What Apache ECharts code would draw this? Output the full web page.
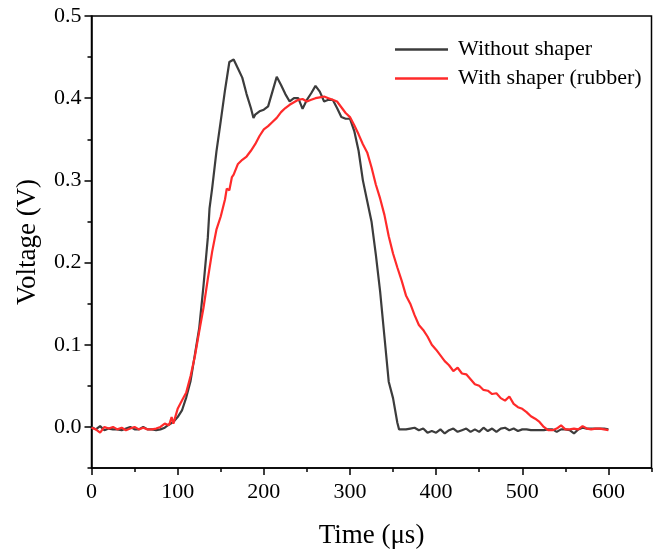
<!DOCTYPE html>
<html>
<head>
<meta charset="utf-8">
<script src="https://cdn.jsdelivr.net/npm/echarts@6/dist/echarts.min.js"></script>
<style>html,body{margin:0;padding:0;background:#fff}#c{width:662px;height:554px}</style>
</head>
<body>
<div id="c"></div>
<script>
var seriesNames = ["Without shaper", "With shaper (rubber)"];
var xTicks = [0, 100, 200, 300, 400, 500, 600];
var xMinorTicks = [50, 150, 250, 350, 450, 550, 650];
var yTicks = [0, 0.1, 0.2, 0.3, 0.4, 0.5];
var yMinorTicks = [-0.05, 0.05, 0.15, 0.25, 0.35, 0.45];

var timeBlack = [0,5,10,15,20,25,30,35,40,45,50,55,60,65,70,75,80,85,90,95,100,105,110,115,120,125,130,135,137,140,145,150,155,160,165,170,175,180,185,188,190,195,200,205,210,215,220,225,230,235,240,245,250,255,260,265,270,275,280,285,290,295,300,305,310,315,320,325,330,335,340,345,350,355,357,360,365,370,375,380,385,390,395,400,405,410,415,420,425,430,435,440,445,450,455,460,465,470,475,480,485,490,495,500,505,510,515,520,525,530,535,540,545,550,555,560,565,570,575,580,585,590,595,600];
var voltBlack = [0.000,-0.003,0.001,-0.004,-0.002,-0.003,-0.003,-0.004,-0.002,0.000,-0.003,-0.003,0.000,-0.003,-0.003,-0.004,-0.003,-0.001,0.003,0.006,0.012,0.020,0.036,0.056,0.088,0.120,0.172,0.230,0.266,0.290,0.335,0.372,0.410,0.444,0.447,0.436,0.425,0.405,0.388,0.376,0.380,0.384,0.386,0.390,0.408,0.426,0.416,0.405,0.396,0.400,0.400,0.387,0.398,0.406,0.415,0.408,0.396,0.398,0.398,0.388,0.377,0.375,0.375,0.360,0.336,0.300,0.275,0.250,0.210,0.165,0.110,0.055,0.035,0.005,-0.003,-0.003,-0.003,-0.002,-0.001,-0.004,-0.002,-0.007,-0.005,-0.007,-0.003,-0.008,-0.004,-0.002,-0.006,-0.004,-0.002,-0.006,-0.003,-0.006,-0.001,-0.005,-0.002,-0.006,-0.002,-0.001,-0.004,-0.002,-0.005,-0.003,-0.003,-0.004,-0.004,-0.004,-0.004,-0.003,-0.003,-0.006,-0.003,-0.003,-0.004,-0.008,-0.003,-0.001,-0.002,-0.002,-0.002,-0.002,-0.002,-0.003];

var timeRed = [0,5,10,15,20,25,30,35,40,45,50,55,60,65,70,75,80,85,90,93,95,100,105,110,115,120,125,130,135,140,145,150,155,157,160,163,165,170,175,180,185,190,195,200,205,210,215,220,225,230,235,240,245,250,255,260,265,270,275,280,285,290,295,300,305,310,315,320,325,330,335,340,345,350,355,360,365,370,375,380,385,390,395,400,405,410,415,420,425,430,435,440,445,450,455,460,465,470,475,480,485,490,495,500,505,510,515,520,525,530,535,540,545,550,555,560,565,570,575,580,585,590,595,600];
var voltRed = [-0.001,-0.003,-0.007,0.000,-0.002,0.000,-0.003,-0.001,-0.004,-0.002,0.000,-0.003,-0.001,-0.003,-0.003,-0.002,0.000,0.004,0.002,0.012,0.004,0.022,0.032,0.042,0.062,0.086,0.116,0.145,0.180,0.213,0.240,0.256,0.277,0.290,0.288,0.304,0.307,0.320,0.325,0.329,0.336,0.344,0.354,0.362,0.366,0.371,0.376,0.383,0.388,0.392,0.395,0.398,0.399,0.396,0.398,0.400,0.401,0.402,0.400,0.398,0.396,0.389,0.382,0.377,0.367,0.356,0.344,0.334,0.316,0.295,0.278,0.258,0.232,0.211,0.194,0.178,0.160,0.150,0.136,0.124,0.118,0.110,0.100,0.094,0.087,0.080,0.075,0.068,0.072,0.065,0.064,0.058,0.052,0.050,0.045,0.044,0.040,0.041,0.035,0.032,0.037,0.028,0.024,0.022,0.018,0.013,0.010,0.006,0.000,-0.004,-0.004,-0.002,0.002,-0.003,-0.003,-0.002,-0.003,0.001,-0.002,-0.003,-0.002,-0.002,-0.003,-0.004];

function pairs(t, v) { return t.map(function (x, i) { return [x, v[i]]; }); }

var font = "'Liberation Serif', 'Times New Roman', serif";
var chart = echarts.init(document.getElementById('c'), null, {renderer: 'canvas'});
chart.setOption({
  animation: false,
  backgroundColor: '#fff',
  grid: {left: 91.5, right: 10.5, top: 16, bottom: 86, show: true, borderColor: '#000', borderWidth: 1.5, backgroundColor: 'transparent'},
  legend: {
    left: 390, top: 33, orient: 'vertical', icon: 'rect', itemWidth: 53, itemHeight: 2.5, itemGap: 6,
    textStyle: {fontFamily: font, fontSize: 22, lineHeight: 23, color: '#000', padding: [0, 0, 0, 5]},
    data: seriesNames
  },
  xAxis: [{
    type: 'value', min: 0, max: 650, interval: 50,
    axisLine: {show: true, onZero: false, lineStyle: {color: '#000', width: 1.5}},
    axisTick: {show: true, inside: false, length: 7, lineStyle: {color: '#000', width: 1.5}, customValues: xTicks},
    axisLabel: {fontFamily: font, fontSize: 22, color: '#000', margin: 13, customValues: xTicks},
    splitLine: {show: false},
    name: 'Time (μs)', nameLocation: 'middle', nameGap: 54,
    nameTextStyle: {fontFamily: font, fontSize: 27, color: '#000'}
  }, {
    type: 'value', min: 0, max: 650, interval: 50, position: 'bottom', offset: 0,
    axisLine: {show: false, onZero: false},
    axisTick: {show: true, length: 4, lineStyle: {color: '#000', width: 1.5}, customValues: xMinorTicks},
    axisLabel: {show: false}, splitLine: {show: false}
  }],
  yAxis: [{
    type: 'value', min: -0.05, max: 0.5, interval: 0.05,
    axisLine: {show: true, onZero: false, lineStyle: {color: '#000', width: 1.5}},
    axisTick: {show: true, length: 7, lineStyle: {color: '#000', width: 1.5}, customValues: yTicks},
    axisLabel: {fontFamily: font, fontSize: 22, color: '#000', margin: 10, customValues: yTicks,
      formatter: function (v) { return v.toFixed(1); }},
    splitLine: {show: false},
    name: 'Voltage (V)', nameLocation: 'middle', nameGap: 50,
    nameTextStyle: {fontFamily: font, fontSize: 27, color: '#000'}
  }, {
    type: 'value', min: -0.05, max: 0.5, interval: 0.05, position: 'left', offset: 0,
    axisLine: {show: false, onZero: false},
    axisTick: {show: true, length: 4, lineStyle: {color: '#000', width: 1.5}, customValues: yMinorTicks},
    axisLabel: {show: false}, splitLine: {show: false}
  }],
  series: [{
    name: seriesNames[0], type: 'line', data: pairs(timeBlack, voltBlack), showSymbol: false, symbol: 'none',
    lineStyle: {color: '#3c3c3c', width: 2.2}, itemStyle: {color: '#3c3c3c'}, z: 2
  }, {
    name: seriesNames[1], type: 'line', data: pairs(timeRed, voltRed), showSymbol: false, symbol: 'none',
    lineStyle: {color: '#ff2a2a', width: 2.2}, itemStyle: {color: '#ff2a2a'}, z: 3
  }]
});
</script>
</body>
</html>
